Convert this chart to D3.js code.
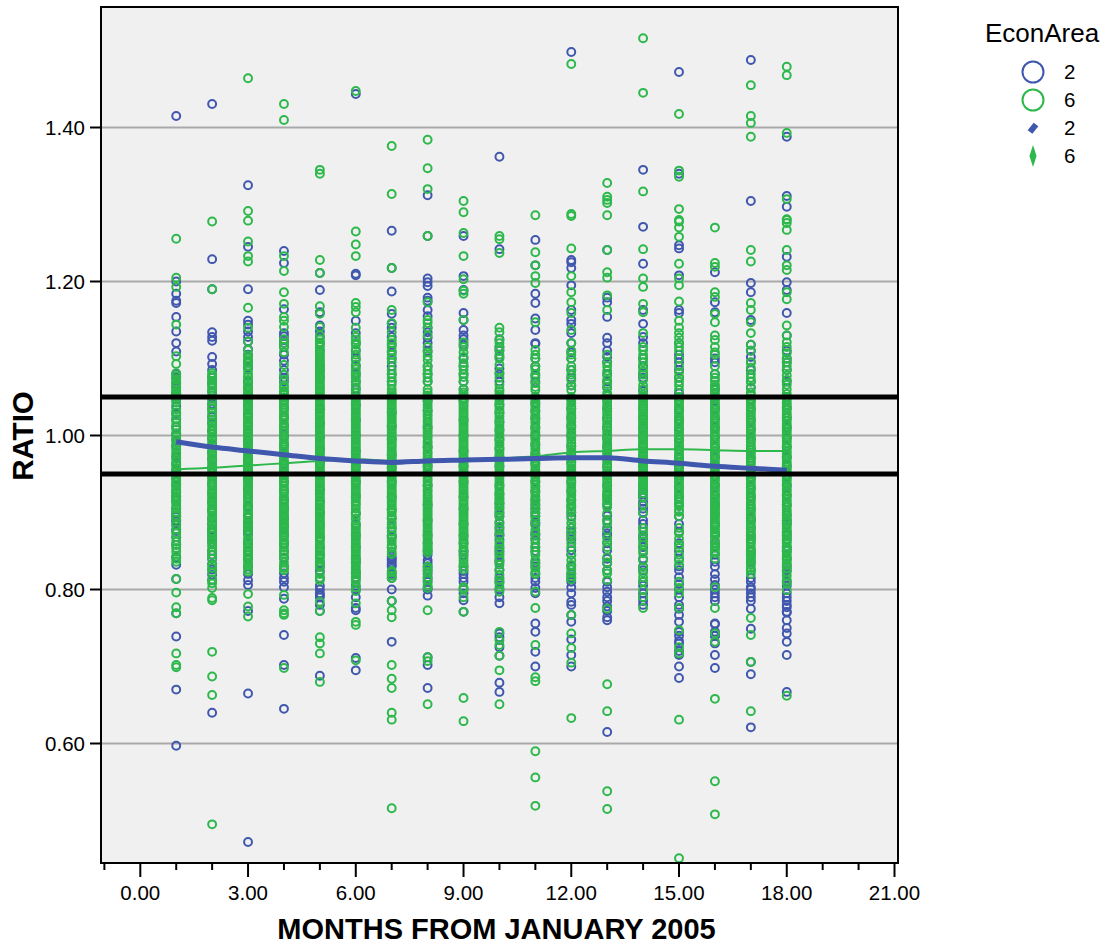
<!DOCTYPE html>
<html><head><meta charset="utf-8">
<script src="https://cdn.jsdelivr.net/npm/d3@7"></script>
<style>
html,body{margin:0;padding:0;background:#fff}
text{font-family:"Liberation Sans",Arial,sans-serif;fill:#000}
</style></head><body><svg id="c" width="1107" height="944"></svg>
<script>
const months=[1,2,3,4,5,6,7,8,9,10,11,12,13,14,15,16,17,18];
const xTickValues=[0,3,6,9,12,15,18,21];
const yTickValues=[.6,.8,1,1.2,1.4];
const referenceLines=[1.05,.95];
const legendTitle="EconArea";
const legendKeys=["2","6"];
const area2Ratio=[
[1.415,1.2,1.184,1.175,1.172,1.154,1.135,1.12,1.109,1.062,1.055,1.047,1.038,1.029,1.021,1.011,1.002,.994,.986,.972,.963,.955,.944,.936,.927,.921,.915,.905,.8945,.889,.884,.878,.868,.832,.8136,.769,.739,.67,.597],
[1.4305,1.229,1.19,1.134,1.128,1.123,1.102,1.093,1.057,1.048,1.041,1.034,1.024,1.017,1.006,.996,.987,.978,.969,.958,.947,.937,.925,.914,.903,.892,.879,.868,.85,.84,.826,.819,.812,.64],
[1.325,1.245,1.19,1.149,1.144,1.128,1.122,1.105,1.088,1.062,1.046,1.039,1.027,1.015,1.004,.993,.98,.968,.956,.943,.931,.92,.908,.896,.887,.881,.877,.874,.86,.84,.812,.806,.772,.665,.472],
[1.2396,1.224,1.164,1.133,1.129,1.124,1.12,1.115,1.097,1.07,1.046,1.036,1.024,1.012,.999,.988,.976,.964,.951,.94,.928,.916,.905,.893,.882,.87,.841,.821,.81,.803,.788,.741,.702,.645],
[1.211,1.189,1.16,1.143,1.128,1.11,1.085,1.05,1.034,1.016,.998,.982,.964,.948,.93,.915,.9,.884,.868,.855,.83,.824,.795,.793,.79,.772,.688],
[1.4435,1.21,1.208,1.149,1.133,1.11,1.09,1.06,1.04,1.02,1,.98,.96,.94,.921,.899,.884,.87,.855,.84,.822,.816,.776,.773,.711,.695],
[1.266,1.2175,1.187,1.158,1.14,1.128,1.108,1.09,1.07,1.048,1.03,1.012,.995,.975,.958,.94,.92,.904,.892,.88,.868,.855,.838,.835,.832,.815,.785,.732],
[1.312,1.259,1.204,1.199,1.194,1.179,1.175,1.155,1.134,1.127,1.12,1.09,1.07,1.045,1.032,1.01,.985,.96,.935,.91,.89,.87,.85,.838,.834,.815,.803,.792,.712,.702,.672],
[1.259,1.207,1.189,1.159,1.137,1.13,1.118,1.09,1.07,1.06,1.045,1.02,1,.98,.96,.94,.92,.905,.885,.87,.86,.845,.824,.81,.786,.771],
[1.362,1.242,1.125,1.115,1.102,1.087,1.07,1.05,1.04,1.03,1.018,1.007,.995,.983,.972,.96,.948,.935,.924,.912,.906,.899,.886,.873,.865,.85,.838,.825,.81,.79,.782,.743,.725,.714,.679,.667],
[1.254,1.221,1.184,1.172,1.152,1.137,1.119,1.1,1.078,1.07,1.05,1.042,1.032,1.022,1.01,1,.988,.976,.964,.952,.94,.928,.916,.905,.895,.887,.873,.865,.85,.835,.82,.815,.802,.756,.745,.719,.7],
[1.498,1.228,1.225,1.2175,1.195,1.163,1.145,1.133,1.12,1.108,1.085,1.065,1.048,1.035,1.023,1.012,1,.986,.975,.965,.952,.94,.928,.916,.908,.895,.88,.87,.851,.83,.81,.803,.784,.767,.758,.735,.715,.7],
[1.241,1.179,1.173,1.154,1.127,1.12,1.102,1.08,1.062,1.047,1.035,1.022,1.01,.997,.985,.972,.96,.948,.935,.922,.91,.896,.88,.873,.86,.851,.834,.81,.803,.797,.79,.764,.76,.615],
[1.345,1.271,1.223,1.163,1.128,1.1,1.09,1.075,1.058,1.05,1.035,1.022,1.01,.998,.985,.973,.96,.948,.935,.925,.92,.914,.909,.905,.89,.88,.866,.84,.825,.81,.795,.785,.78],
[1.472,1.34,1.247,1.243,1.208,1.163,1.159,1.105,1.095,1.075,1.055,1.045,1.033,1.02,1.008,.995,.982,.97,.958,.945,.932,.92,.91,.895,.885,.86,.84,.825,.816,.807,.79,.767,.758,.745,.733,.715,.7,.685],
[1.212,1.173,1.095,1.08,1.06,1.048,1.035,1.022,1.01,.998,.985,.972,.96,.947,.935,.922,.91,.897,.885,.872,.86,.845,.836,.813,.806,.79,.756,.74,.715,.698],
[1.4877,1.3045,1.198,1.186,1.118,1.102,1.095,1.07,1.062,1.046,1.034,1.02,1.008,.995,.982,.97,.957,.944,.932,.92,.905,.892,.88,.865,.845,.835,.815,.803,.795,.785,.749,.706,.69,.621],
[1.388,1.311,1.297,1.232,1.199,1.189,1.159,1.1,1.085,1.07,1.05,1.036,1.023,1.01,.997,.985,.972,.96,.947,.935,.922,.91,.897,.885,.875,.865,.855,.84,.825,.81,.795,.79,.777,.771,.75,.743,.732,.715,.667]
];
const area2RatioExtra=[
[1.08,1.075,1.068,.9,.896,.89,.876,.858,.842],
[1.085,1.075,1.068,.885,.874,.862,.845,.833],
[1.135,1.112,1.095,1.07,.883,.875,.872,.85,.83,.82],
[1.105,1.085,1.075,.86,.85,.83,.815],
[1.135,1.12,1.09,1.075,.845,.835,.815,.805,.8,.78],
[1.12,1.1,1.08,1.07,.835,.805,.8,.79],
[1.145,1.118,1.1,1.08,.87,.843,.84,.83,.82,.8],
[1.163,1.14,1.11,1.08,.86,.845,.83,.825,.82,.81,.8],
[1.15,1.125,1.1,1.08,.85,.83,.82,.815,.8,.795],
[1.11,1.08,.895,.88,.87,.855,.845,.835,.815,.8,.738],
[1.12,1.09,.91,.9,.885,.87,.855,.83,.81,.795],
[1.15,1.1,1.075,.9,.875,.865,.845,.82,.815,.795,.78],
[1.11,1.095,1.07,.89,.87,.84,.825,.785,.778,.772],
[1.145,1.12,1.08,.93,.925,.92,.91,.9,.885,.87,.855,.83,.805,.79],
[1.12,1.1,1.085,.875,.85,.83,.8,.78,.775,.74,.73,.72],
[1.16,1.1,.885,.87,.855,.83,.82,.8,.795,.785,.755,.745,.74,.73],
[1.15,1.11,1.085,.89,.87,.85,.825,.81,.8,.79,.775],
[1.13,1.11,1.095,.89,.87,.85,.83,.805,.785,.78,.77,.76]
];
const area6Ratio=[
[1.2556,1.205,1.193,1.144,1.103,1.093,1.081,1.077,1.073,1.069,1.058,1.05,1.043,1.034,1.026,1.017,1.008,.999,.99,.982,.975,.966,.958,.95,.942,.936,.93,.925,.921,.917,.912,.905,.896,.873,.862,.849,.836,.8136,.796,.777,.769,.717,.702,.699],
[1.278,1.19,1.081,1.075,1.068,1.062,1.052,1.045,1.039,1.03,1.021,1.013,1.006,.998,.99,.982,.974,.966,.958,.951,.943,.936,.93,.924,.918,.912,.906,.9,.892,.884,.873,.866,.855,.845,.832,.813,.808,.802,.789,.786,.719,.687,.663,.495],
[1.464,1.2915,1.279,1.252,1.233,1.226,1.166,1.14,1.122,1.111,1.1,1.094,1.085,1.076,1.068,1.057,1.05,1.044,1.038,1.032,1.026,1.02,1.014,1.008,1.002,.996,.99,.984,.978,.972,.966,.96,.954,.948,.942,.936,.93,.924,.917,.91,.903,.896,.889,.884,.867,.864,.858,.851,.845,.834,.823,.794,.778,.765],
[1.4305,1.4097,1.233,1.2136,1.186,1.171,1.154,1.149,1.141,1.108,1.0916,1.079,1.072,1.062,1.053,1.046,1.04,1.033,1.026,1.02,1.013,1.006,.999,.992,.985,.979,.972,.965,.958,.952,.945,.938,.931,.925,.918,.911,.905,.899,.893,.887,.882,.877,.864,.858,.849,.828,.793,.773,.769,.767,.698],
[1.345,1.34,1.228,1.211,1.168,1.158,1.141,1.121,1.115,1.106,1.1,1.095,1.09,1.084,1.078,1.072,1.066,1.06,1.054,1.048,1.042,1.036,1.03,1.024,1.018,1.012,1.006,1,.994,.988,.982,.976,.97,.964,.958,.952,.946,.94,.934,.928,.922,.916,.91,.904,.898,.892,.886,.88,.874,.868,.862,.855,.849,.843,.836,.812,.784,.772,.738,.73,.717,.68],
[1.4474,1.265,1.248,1.233,1.172,1.167,1.16,1.124,1.118,1.105,1.092,1.082,1.075,1.066,1.056,1.05,1.044,1.038,1.032,1.026,1.02,1.014,1.008,1.002,.996,.99,.984,.978,.972,.966,.96,.954,.948,.942,.936,.93,.924,.918,.912,.905,.892,.886,.88,.874,.868,.862,.856,.85,.844,.838,.832,.826,.813,.798,.782,.758,.754,.708],
[1.376,1.3136,1.2175,1.163,1.146,1.134,1.124,1.115,1.1,1.075,1.066,1.056,1.05,1.044,1.038,1.032,1.026,1.02,1.014,1.008,1.002,.996,.99,.984,.978,.972,.966,.96,.954,.948,.942,.936,.93,.924,.918,.912,.906,.9,.896,.884,.875,.866,.858,.849,.824,.815,.785,.773,.764,.702,.684,.672,.64,.631,.516],
[1.384,1.347,1.32,1.259,1.173,1.15,1.146,1.108,1.098,1.085,1.075,1.056,1.048,1.04,1.032,1.025,1.018,1.011,1.004,.997,.99,.983,.976,.969,.962,.955,.948,.941,.934,.927,.92,.914,.908,.902,.896,.89,.884,.878,.872,.866,.86,.855,.851,.827,.816,.806,.773,.712,.707,.651],
[1.3045,1.29,1.263,1.233,1.203,1.188,1.184,1.15,1.121,1.108,1.102,1.094,1.085,1.076,1.053,1.045,1.039,1.033,1.027,1.021,1.015,1.009,1.003,.997,.991,.985,.979,.973,.967,.961,.955,.949,.943,.937,.931,.925,.919,.913,.907,.901,.895,.889,.883,.877,.871,.865,.859,.851,.834,.803,.79,.771,.659,.629],
[1.259,1.255,1.237,1.14,1.134,1.124,1.115,1.111,1.092,1.082,1.075,1.066,1.053,1.045,1.037,1.029,1.021,1.013,1.005,.997,.989,.981,.973,.965,.957,.949,.941,.933,.926,.92,.916,.911,.877,.858,.842,.832,.819,.803,.797,.745,.734,.728,.714,.695,.651],
[1.286,1.238,1.221,1.207,1.198,1.147,1.111,1.105,1.086,1.068,1.059,1.05,1.044,1.037,1.03,1.023,1.016,1.009,1.002,.995,.988,.981,.974,.967,.96,.953,.946,.939,.932,.925,.918,.911,.904,.899,.877,.86,.849,.838,.828,.823,.797,.776,.728,.686,.681,.59,.556,.519],
[1.4825,1.2877,1.285,1.243,1.207,1.186,1.173,1.159,1.137,1.1,1.079,1.072,1.059,1.05,1.042,1.034,1.026,1.018,1.01,1.002,.994,.986,.978,.97,.962,.954,.946,.938,.93,.922,.915,.907,.886,.873,.86,.838,.821,.813,.767,.743,.724,.705,.633],
[1.328,1.31,1.306,1.302,1.286,1.241,1.212,1.205,1.182,1.163,1.095,1.084,1.072,1.063,1.055,1.047,1.039,1.031,1.023,1.015,1.007,.999,.991,.983,.975,.967,.959,.951,.943,.935,.927,.921,.916,.899,.886,.867,.842,.821,.812,.775,.677,.642,.538,.515],
[1.516,1.445,1.317,1.242,1.204,1.193,1.171,1.16,1.133,1.115,1.111,1.105,1.088,1.079,1.06,1.053,1.047,1.041,1.035,1.029,1.023,1.017,1.011,1.005,.999,.993,.987,.981,.975,.969,.963,.957,.951,.945,.939,.935,.93,.899,.875,.858,.851,.829,.816,.799,.776],
[1.4175,1.344,1.336,1.294,1.28,1.278,1.27,1.258,1.223,1.204,1.195,1.174,1.149,1.14,1.133,1.127,1.12,1.115,1.082,1.07,1.059,1.05,1.043,1.036,1.029,1.022,1.015,1.008,1.001,.994,.987,.98,.973,.966,.959,.952,.945,.938,.931,.924,.917,.91,.901,.873,.854,.832,.802,.776,.747,.725,.717,.631,.451],
[1.27,1.224,1.219,1.186,1.18,1.158,1.147,1.13,1.124,1.108,1.105,1.08,1.071,1.063,1.055,1.047,1.04,1.033,1.026,1.019,1.012,1.005,.998,.991,.984,.977,.97,.963,.956,.949,.942,.935,.928,.921,.915,.91,.905,.9,.894,.888,.882,.875,.873,.864,.854,.847,.803,.776,.743,.732,.658,.551,.508],
[1.455,1.415,1.406,1.388,1.241,1.226,1.172,1.163,1.147,1.133,1.118,1.088,1.075,1.056,1.048,1.041,1.034,1.027,1.02,1.013,1.006,.999,.992,.985,.978,.971,.964,.957,.95,.943,.936,.929,.922,.915,.908,.901,.894,.887,.88,.873,.866,.859,.851,.845,.84,.825,.763,.741,.706,.642],
[1.479,1.468,1.393,1.307,1.281,1.28,1.276,1.267,1.241,1.221,1.215,1.186,1.177,1.143,1.121,1.115,1.107,1.09,1.072,1.066,1.06,1.054,1.047,1.04,1.033,1.026,1.019,1.012,1.005,.998,.991,.984,.977,.97,.963,.956,.949,.942,.935,.928,.921,.914,.907,.9,.893,.886,.879,.872,.866,.86,.853,.846,.84,.834,.823,.812,.799,.662]
];
const area6RatioBand=[
[1.054,1.047,1.03,1.021,1.012,1.003,.995,.986,.978,.97,.962,.954,.946,.939,.933,.927,.919,.915,.908,.9],
[1.035,1.026,1.017,1.009,1.002,.994,.986,.978,.97,.962,.955,.947,.94,.933,.927,.921,.915,.909,.903,.896,.888],
[1.053,1.047,1.041,1.035,1.029,1.023,1.017,1.011,1.005,.999,.993,.987,.981,.975,.969,.963,.957,.951,.945,.939,.933,.927,.92,.913,.906,.899,.893,.886],
[1.043,1.036,1.03,1.023,1.016,1.009,1.003,.996,.988,.982,.975,.968,.961,.955,.948,.941,.934,.928,.921,.914,.908,.902,.896,.89,.885,.88],
[1.103,1.097,1.092,1.087,1.081,1.075,1.069,1.063,1.057,1.051,1.045,1.039,1.033,1.027,1.021,1.015,1.009,1.003,.997,.991,.985,.979,.973,.967,.961,.955,.949,.943,.937,.931,.925,.919,.913,.907,.901,.895,.889,.883,.877,.871,.865,.858,.852],
[1.047,1.041,1.035,1.029,1.023,1.017,1.011,1.005,.999,.993,.987,.981,.975,.969,.963,.957,.951,.945,.939,.933,.927,.921,.915,.909,.883,.877,.871,.865,.859,.853,.847,.841,.835,.829,.823,.82],
[1.053,1.047,1.041,1.035,1.029,1.023,1.017,1.011,1.005,.999,.993,.987,.981,.975,.969,.963,.957,.951,.945,.939,.933,.927,.921,.915,.909,.903],
[1.052,1.044,1.036,1.028,1.021,1.014,1.007,1,.993,.986,.979,.972,.965,.958,.951,.944,.937,.93,.923,.917,.911,.905,.899,.893,.887,.881,.875,.869,.863,.857,.853],
[1.048,1.042,1.036,1.03,1.024,1.018,1.012,1.006,1,.994,.988,.982,.976,.97,.964,.958,.952,.946,.94,.934,.928,.922,.916,.91,.904,.898,.892,.886,.88,.874,.868,.862,.855],
[1.049,1.041,1.033,1.025,1.017,1.009,1.001,.993,.985,.977,.969,.961,.953,.945,.937,.93,.923,.918,.913],
[1.047,1.04,1.033,1.026,1.019,1.012,1.005,.998,.991,.984,.977,.97,.963,.956,.949,.942,.935,.928,.921,.914,.907],
[1.046,1.038,1.03,1.022,1.014,1.006,.998,.99,.982,.974,.966,.958,.95,.942,.934,.926,.918,.911],
[1.051,1.043,1.035,1.027,1.019,1.011,1.003,.995,.987,.979,.971,.963,.955,.947,.939,.931,.924,.918],
[1.05,1.044,1.038,1.032,1.026,1.02,1.014,1.008,1.002,.996,.99,.984,.978,.972,.966,.96,.954,.948,.942,.937,.932],
[1.046,1.039,1.032,1.025,1.018,1.011,1.004,.997,.99,.983,.976,.969,.962,.955,.948,.941,.934,.927,.92,.914],
[1.059,1.051,1.043,1.037,1.03,1.023,1.016,1.008,1.001,.994,.987,.98,.973,.966,.959,.952,.945,.938,.931,.924,.918,.912,.907,.902,.897,.891,.885],
[1.052,1.044,1.037,1.03,1.023,1.016,1.009,1.002,.995,.988,.981,.974,.967,.96,.953,.946,.939,.932,.925,.918,.911,.904,.897,.89,.883,.876,.869,.862,.855],
[1.05,1.043,1.036,1.029,1.022,1.015,1.008,1.001,.994,.987,.98,.973,.966,.959,.952,.945,.938,.931,.924,.917,.91,.903,.896,.889,.882,.875,.869,.863,.856,.85,.843]
];
const area6RatioExtra=[
[1.066,1.063,1.056,1.052,.891,.884,.878,.868,.858,.854,.843,.84],
[1.078,1.071,1.065,1.058,.88,.876,.87,.862,.858,.85,.84,.828,.822],
[1.104,1.097,1.091,1.08,1.072,1.064,1.06,1.054,.881,.878,.873,.861,.855,.848,.842,.838,.83,.826],
[1.065,1.058,1.056,1.049,1.125,1.12,1.115,.874,.871,.868,.861,.855,.846,.842,.835,.83,.825],
[1.13,1.125,1.118,1.11,.846,.84,.832,.829,.82,.815],
[1.14,1.128,1.12,1.112,1.098,1.086,1.078,1.07,1.062,.9,.897,.816,.82,.81,.803],
[1.12,1.11,1.105,1.095,1.085,1.08,1.07,1.06,.893,.887,.88,.87,.862,.854,.846,.822,.818],
[1.14,1.13,1.115,1.103,1.09,1.08,1.07,1.06,.848,.83,.823,.812,.802],
[1.115,1.09,1.08,1.07,1.06,1.056,.848,.842,.838,.83,.826,.8],
[1.12,1.105,1.1,1.06,1.057,.908,.903,.9,.895,.888,.882,.87,.862,.853,.848,.838,.826,.812,.808],
[1.1,1.09,1.08,1.075,1.063,.895,.89,.883,.872,.866,.855,.845,.833,.82],
[1.12,1.11,1.105,1.09,1.085,1.065,.904,.9,.892,.88,.868,.855,.845,.832,.826,.817],
[1.105,1.09,1.078,1.067,.912,.907,.89,.877,.862,.855,.835,.825],
[1.1,1.095,1.083,1.072,1.065,.925,.92,.91,.88,.868,.862,.847,.838,.822,.81,.79],
[1.11,1.1,1.09,1.076,1.065,.908,.903,.895,.88,.866,.858,.845,.838,.81,.795],
[1.115,1.09,1.075,1.066,.882,.878,.87,.861,.857,.85,.84],
[1.11,1.095,1.08,1.07,1.063,.85,.848,.843,.838,.832,.828,.82],
[1.13,1.1,1.095,1.085,1.078,.838,.832,.828,.818,.808]
];
const area2Trend=[.992,.985,.98,.975,.97,.967,.965,.967,.968,.969,.97,.971,.971,.967,.964,.96,.9575,.955];
const area6Trend=[.956,.958,.961,.964,.967,.969,.967,.966,.968,.97,.973,.978,.98,.982,.982,.981,.98,.98];

const BLUE="#4057ae",GREEN="#2db84b";
const svg=d3.select("#c");
const x=d3.scaleLinear().domain([0,21]).range([140.3,894.5]);
const y=d3.scaleLinear().domain([.6,1.4]).range([743.5,127.5]);
const L=101,R=898,T=7,B=863;

svg.append("rect").attr("x",L).attr("y",T).attr("width",R-L).attr("height",B-T).attr("fill","#f0f0f0");
svg.append("g").selectAll("line").data(yTickValues).join("line")
 .attr("x1",L).attr("x2",R).attr("y1",d=>y(d)).attr("y2",d=>y(d))
 .attr("stroke","#a9a9a9").attr("stroke-width",2);

const drawDots=(rows,color)=>svg.append("g").selectAll("g").data(rows).join("g")
 .each(function(vals,i){
   d3.select(this).selectAll("circle").data(vals).join("circle")
     .attr("cx",x(months[i])).attr("cy",d=>y(d)).attr("r",3.95)
     .attr("fill","none").attr("stroke",color).attr("stroke-width",2);
 });
drawDots(area2Ratio.map((r,i)=>r.concat(area2RatioExtra[i])),BLUE);
drawDots(area6Ratio.map((r,i)=>r.concat(area6RatioBand[i],area6RatioExtra[i])),GREEN);

const line=d3.line().x((d,i)=>x(months[i])).y(d=>y(d)).curve(d3.curveMonotoneX);
svg.append("path").attr("d",line(area6Trend)).attr("fill","none").attr("stroke",GREEN).attr("stroke-width",2);
svg.append("path").attr("d",line(area2Trend)).attr("fill","none").attr("stroke",BLUE).attr("stroke-width",5);

svg.append("g").selectAll("line").data(referenceLines).join("line")
 .attr("x1",L).attr("x2",R).attr("y1",d=>y(d)).attr("y2",d=>y(d))
 .attr("stroke","#000").attr("stroke-width",5);

svg.append("rect").attr("x",L).attr("y",T).attr("width",R-L).attr("height",B-T)
 .attr("fill","none").attr("stroke","#000").attr("stroke-width",2);

const minor=d3.range(-1,22);
svg.append("g").selectAll("line").data(minor).join("line")
 .attr("x1",d=>x(d)).attr("x2",d=>x(d)).attr("y1",B)
 .attr("y2",d=>d%3===0?877:870).attr("stroke","#000").attr("stroke-width",2);
svg.append("g").selectAll("text").data(xTickValues).join("text")
 .attr("x",d=>x(d)).attr("y",900).attr("text-anchor","middle").attr("font-size",20.5)
 .text(d=>d.toFixed(2));
svg.append("g").selectAll("line").data(yTickValues).join("line")
 .attr("x1",90).attr("x2",L).attr("y1",d=>y(d)).attr("y2",d=>y(d)).attr("stroke","#000").attr("stroke-width",2);
svg.append("g").selectAll("text").data(yTickValues).join("text")
 .attr("x",85).attr("y",d=>y(d)+7).attr("text-anchor","end").attr("font-size",20.5)
 .text(d=>d.toFixed(2));
svg.append("text").attr("x",496.5).attr("y",939).attr("text-anchor","middle")
 .attr("font-size",29).attr("font-weight","bold").text("MONTHS FROM JANUARY 2005");
svg.append("text").attr("transform","translate(33,436) rotate(-90)").attr("text-anchor","middle")
 .attr("font-size",29.5).attr("font-weight","bold").text("RATIO");

svg.append("text").attr("x",985).attr("y",42).attr("font-size",26).text(legendTitle);
const legColors=[BLUE,GREEN];
const legY=d3.scalePoint().domain(["c2","c6","m2","m6"]).range([72,156]);
svg.append("g").selectAll("circle").data(legendKeys).join("circle")
 .attr("cx",1033).attr("cy",(d,i)=>legY(["c2","c6"][i])).attr("r",10.5)
 .attr("fill","none").attr("stroke-width",2).attr("stroke",(d,i)=>legColors[i]);
svg.append("line").attr("x1",1030).attr("x2",1036).attr("y1",132).attr("y2",124.5)
 .attr("stroke",BLUE).attr("stroke-width",6);
svg.append("path").attr("d",d3.symbol(d3.symbolDiamond,120)())
 .attr("transform",`translate(1033,156) scale(.6,1.08)`).attr("fill",GREEN);
svg.append("g").selectAll("text").data(["c2","c6","m2","m6"]).join("text")
 .attr("x",1064).attr("y",d=>legY(d)+7).attr("font-size",20.5).text(d=>d.slice(1));
</script></body></html>
